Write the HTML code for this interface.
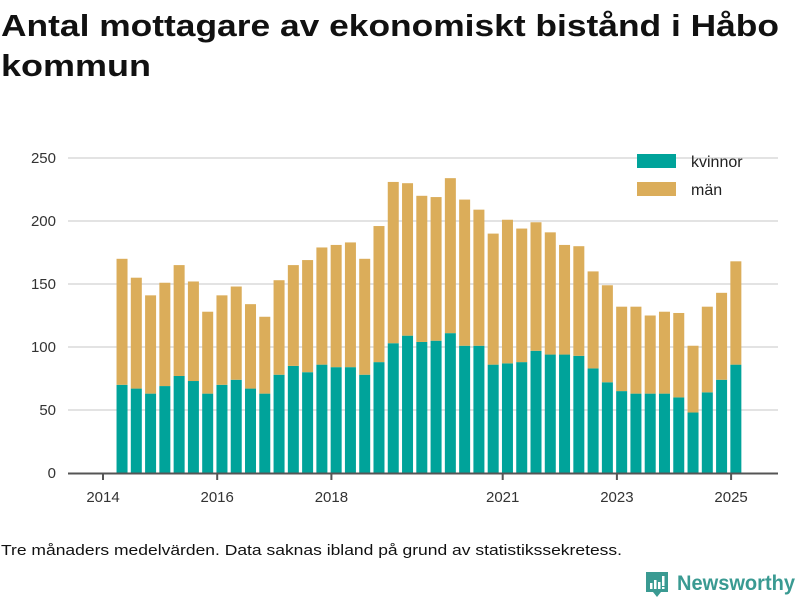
<!DOCTYPE html>
<html><head><meta charset="utf-8"><style>
body{margin:0;background:#fff;}
svg{display:block;font-family:"Liberation Sans",sans-serif;}
</style></head><body>
<svg id="chart" width="800" height="600" viewBox="0 0 800 600">
<text x="1" y="36" font-size="31" font-weight="bold" fill="#111" textLength="778" lengthAdjust="spacingAndGlyphs">Antal mottagare av ekonomiskt bistånd i Håbo</text>
<text x="1" y="76" font-size="31" font-weight="bold" fill="#111" textLength="150" lengthAdjust="spacingAndGlyphs">kommun</text>
<g id="grid"></g>
<g id="bars"></g>
<g id="axes"></g>
<g>
<rect x="637" y="154" width="39" height="14" fill="#00a39a"/>
<text x="691" y="167" font-size="16" fill="#222">kvinnor</text>
<rect x="637" y="182" width="39" height="14" fill="#dbad5a"/>
<text x="691" y="195" font-size="16" fill="#222">män</text>
</g>
<text x="1" y="555" font-size="14.5" fill="#111" textLength="621" lengthAdjust="spacingAndGlyphs">Tre månaders medelvärden. Data saknas ibland på grund av statistikssekretess.</text>
<g>
<path d="M646 572 h22 v20 h-7 l-4 5 l-4 -5 h-7 z" fill="#3a9a92"/>
<rect x="650" y="583" width="2.5" height="6" fill="#fff"/><rect x="654" y="580" width="2.5" height="9" fill="#fff"/><rect x="658" y="582" width="2.5" height="7" fill="#fff"/><rect x="662" y="576" width="2.5" height="10" fill="#fff"/><rect x="662" y="587" width="2.5" height="2" fill="#fff"/>
<text x="677" y="590" font-size="21" font-weight="bold" fill="#3a9a92" textLength="118" lengthAdjust="spacingAndGlyphs">Newsworthy</text>
</g>
</svg>
<script>
const periods=["2014-05","2014-08","2014-11","2015-02","2015-05","2015-08","2015-11","2016-02","2016-05","2016-08","2016-11","2017-02","2017-05","2017-08","2017-11","2018-02","2018-05","2018-08","2018-11","2019-02","2019-05","2019-08","2019-11","2020-02","2020-05","2020-08","2020-11","2021-02","2021-05","2021-08","2021-11","2022-02","2022-05","2022-08","2022-11","2023-02","2023-05","2023-08","2023-11","2024-02","2024-05","2024-08","2024-11","2025-02"];
const kvinnor=[70,67,63,69,77,73,63,70,74,67,63,78,85,80,86,84,84,78,88,103,109,104,105,111,101,101,86,87,88,97,94,94,93,83,72,65,63,63,63,60,48,64,74,86];
const totals=[170,155,141,151,165,152,128,141,148,134,124,153,165,169,179,181,183,170,196,231,230,220,219,234,217,209,190,201,194,199,191,181,180,160,149,132,132,125,128,127,101,132,143,168];
const man=totals.map((t,i)=>t-kvinnor[i]);
const yTicks=[0,50,100,150,200,250];
const xTicks=[2014,2016,2018,2021,2023,2025];
const NS="http://www.w3.org/2000/svg";
const x=t=>103+(t-2014)*57.1;
const y=v=>473-v*1.26;
const toT=p=>{const [a,b]=p.split("-").map(Number);return a+(b-1)/12;};
function mk(tag,attrs,parent){const e=document.createElementNS(NS,tag);for(const k in attrs)e.setAttribute(k,attrs[k]);parent.appendChild(e);return e;}
const grid=document.getElementById("grid"),bars=document.getElementById("bars"),axes=document.getElementById("axes");
yTicks.forEach(v=>{
 if(v>0){const l=mk("line",{x1:68,x2:778,y1:y(v),y2:y(v),stroke:"#e3e3e3","stroke-width":2},grid);
 
 }
 const t=mk("text",{x:56,y:y(v)+5,"font-size":15,fill:"#333","text-anchor":"end"},axes);t.textContent=v;
 
 
});
periods.forEach((p,i)=>{
 const cx=x(toT(p));
 const r1=mk("rect",{x:cx-5.5,y:y(kvinnor[i]),width:11,height:y(0)-y(kvinnor[i]),fill:"#00a39a"},bars);
 
 
 const r2=mk("rect",{x:cx-5.5,y:y(totals[i]),width:11,height:y(kvinnor[i])-y(totals[i]),fill:"#dbad5a"},bars);
 
 
});
const ax=mk("line",{x1:68,x2:778,y1:473.5,y2:473.5,stroke:"#555","stroke-width":2},axes);


xTicks.forEach(v=>{
 const tk=mk("line",{x1:x(v),x2:x(v),y1:473,y2:480,stroke:"#555","stroke-width":2},axes);
 
 
 const t=mk("text",{x:x(v),y:502,"font-size":15,fill:"#333","text-anchor":"middle"},axes);t.textContent=v;
 
 
});
</script>
</body></html>
